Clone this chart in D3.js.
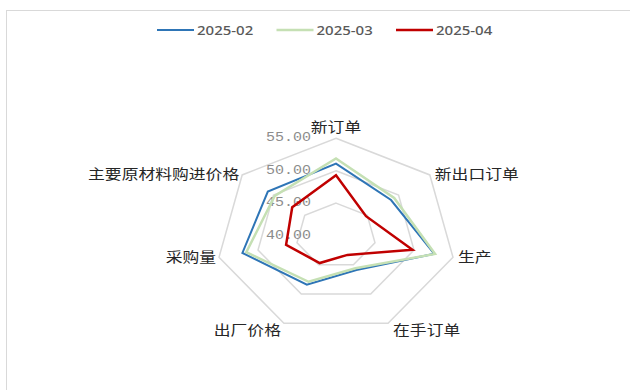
<!DOCTYPE html>
<head>
  <meta charset="utf-8">
  <style>
    body { margin: 0; background: #fff; }
  </style>
</head>
<body>
  <div id="chart"></div>
  <script src="https://d3js.org/d3.v7.min.js"></script>
  <script>

    // data
    var categories = ["新订单", "新出口订单", "生产", "在手订单", "出厂价格", "采购量", "主要原材料购进价格"];
    var seriesNames = ["2025-02", "2025-03", "2025-04"];
    var feb = [51.1, 48.8, 52.6, 45.9, 48.4, 52.0, 50.9];
    var mar = [51.9, 49.3, 52.7, 45.6, 47.9, 51.5, 49.8];
    var apr = [49.3, 44.8, 49.8, 43.3, 44.7, 46.4, 47.0];
    var ticks = [40, 45, 50, 55];
    var colors = ["#2e75b6", "#c5e0b4", "#c00000"];

    var allSeries = [feb, mar, apr];

    var width = 630, height = 390,
        cx = 336, cy = 235.6,
        stretch = 1.2;   // the original picture is widened sideways

    var svg = d3.select("#chart").append("svg")
      .attr("width", width)
      .attr("height", height)

    // chart frame
    svg.append("rect")
      .attr("x", 6.5).attr("y", 10.5)
      .attr("width", 700).attr("height", 500)
      .attr("fill", "none")
      .attr("stroke", "#d9d9d9")

    var rX = d3.scaleLinear().domain([40, 55]).range([0, 120]);
    var rY = d3.scaleLinear().domain([40, 55]).range([0, 97.3]);

    var angle = d3.scalePoint().domain(d3.range(categories.length + 1)).range([0, 2 * Math.PI]);

    function px(i, v) { return cx + Math.sin(angle(i)) * rX(v); }
    function py(i, v) { return cy - Math.cos(angle(i)) * rY(v); }

    function place(x, y) { return "translate(" + x + "," + y + ") scale(" + stretch + ",1)"; }

    var line = d3.line().x(function(d) { return d[0]; }).y(function(d) { return d[1]; }).curve(d3.curveLinearClosed);

    // grid rings
    svg.append("g").selectAll("path")
      .data(ticks.slice(1))
      .enter().append("path")
        .attr("d", function(t) {
          return line(categories.map(function(c, i) { return [px(i, t), py(i, t)]; }));
        })
        .attr("fill", "none")
        .attr("stroke", "#d9d9d9")
        .attr("stroke-width", 1.5)

    // tick labels
    svg.append("g").selectAll("text")
      .data(ticks)
      .enter().append("text")
        .attr("transform", function(t) { return place(311, cy - rY(t)); })
        .attr("text-anchor", "end")
        .attr("dominant-baseline", "central")
        .attr("font-family", "Liberation Mono")
        .attr("font-size", "12.5px")
        .attr("fill", "#8c8c8c")
        .text(function(t) { return t.toFixed(2); })

    // series
    svg.append("g").selectAll("path")
      .data(allSeries)
      .enter().append("path")
        .attr("d", function(s) {
          return line(s.map(function(v, i) { return [px(i, v), py(i, v)]; }));
        })
        .attr("fill", "none")
        .attr("stroke", function(s, k) { return colors[k]; })
        .attr("stroke-width", function(s, k) { return k == 0 ? 2 : 2.5; })
        .attr("stroke-linejoin", "miter")

    // category labels
    svg.append("g").selectAll("text")
      .data(categories)
      .enter().append("text")
        .attr("transform", function(c, i) {
          var s = Math.sin(angle(i)), co = Math.cos(angle(i));
          var x = px(i, 55) + (s > 0.1 ? 5 : s < -0.1 ? -3 : 0);
          var y = co > 0.9 ? py(i, 55) - 13 : co < -0.5 ? py(i, 55) + 5 : py(i, 55) - 2;
          return place(x, y);
        })
        .attr("text-anchor", function(c, i) {
          var s = Math.sin(angle(i));
          return s > 0.1 ? "start" : s < -0.1 ? "end" : "middle";
        })
        .attr("dominant-baseline", "central")
        .attr("font-family", "Noto Sans CJK SC")
        .attr("font-size", "14px")
        .attr("fill", "#262626")
        .text(function(c) { return c; })

    // legend
    var legend = svg.append("g").selectAll("g")
      .data(seriesNames)
      .enter().append("g")
        .attr("transform", function(d, i) { return "translate(" + (157 + i * 119.5) + ",30)"; })

    legend.append("line")
      .attr("x1", 0).attr("x2", 37)
      .attr("stroke", function(d, i) { return colors[i]; })
      .attr("stroke-width", function(d, i) { return i == 0 ? 2 : 2.5; })

    legend.append("text")
      .attr("transform", place(40, 0))
      .attr("dominant-baseline", "central")
      .attr("font-family", "Noto Sans")
      .attr("font-size", "12.5px")
      .attr("font-weight", 500)
      .attr("fill", "#595959")
      .text(function(d) { return d; })

    </script>
</body>
